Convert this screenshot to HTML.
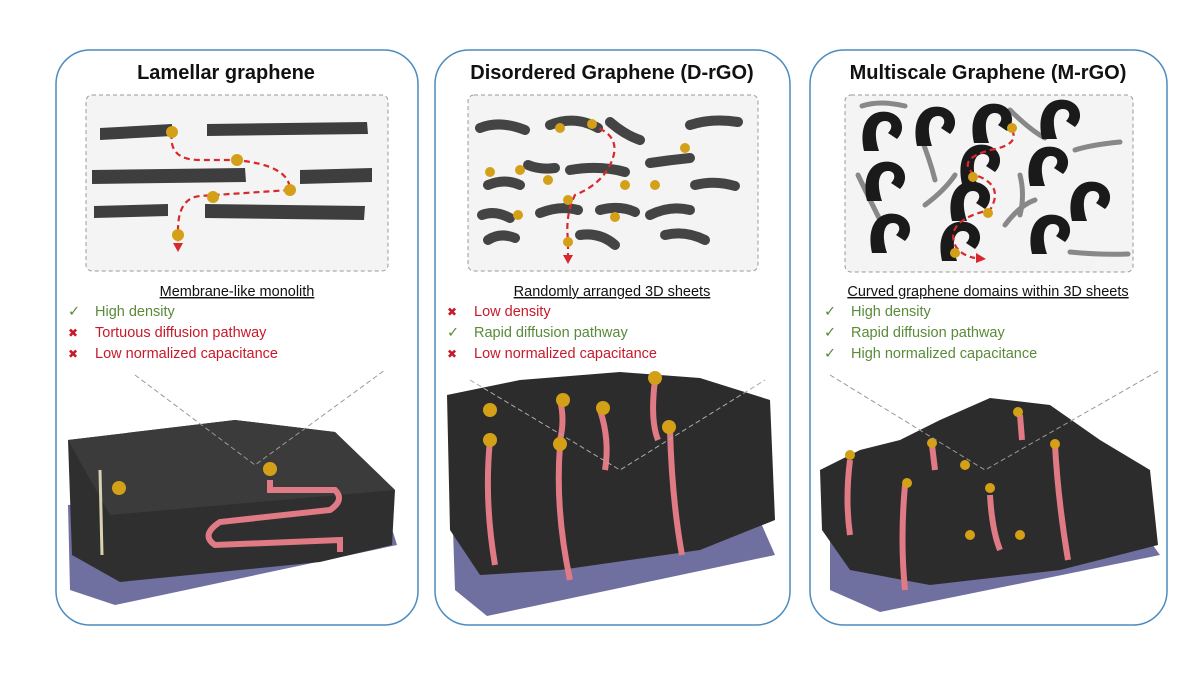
<!DOCTYPE html>
<html><head><meta charset="utf-8"><style>
body{margin:0;background:#fff;width:1200px;height:675px;overflow:hidden;font-family:"Liberation Sans",sans-serif}
</style></head><body>
<svg width="1200" height="675" viewBox="0 0 1200 675" xmlns="http://www.w3.org/2000/svg" font-family="Liberation Sans, sans-serif">
<defs>
<g id="hook"><path d="M-12,14 C-16,-4 -8,-14 4,-12 C14,-10 16,0 10,6 L4,2 C8,-2 6,-6 2,-6 C-4,-6 -6,2 -2,14 Z" fill="#1a1a1a"/></g>
</defs>
<rect x="56" y="50" width="362" height="575" rx="34" fill="#fff" stroke="#4d8cbf" stroke-width="1.5"/>
<rect x="435" y="50" width="355" height="575" rx="34" fill="#fff" stroke="#4d8cbf" stroke-width="1.5"/>
<rect x="810" y="50" width="357" height="575" rx="34" fill="#fff" stroke="#4d8cbf" stroke-width="1.5"/>
<g font-weight="bold" font-size="20" text-anchor="middle" fill="#111">
<text x="226" y="79">Lamellar graphene</text>
<text x="612" y="79">Disordered Graphene (D-rGO)</text>
<text x="988" y="79">Multiscale Graphene (M-rGO)</text>
</g>
<rect x="86" y="95" width="302" height="176" rx="6" fill="#f4f4f4" stroke="#999" stroke-dasharray="4,3"/>
<rect x="468" y="95" width="290" height="176" rx="6" fill="#f4f4f4" stroke="#999" stroke-dasharray="4,3"/>
<rect x="845" y="95" width="288" height="177" rx="6" fill="#f4f4f4" stroke="#999" stroke-dasharray="4,3"/>
<g fill="#3e3e3e">
<path d="M100,128 L172,124 L172,136 L100,140Z"/><path d="M207,124 L367,122 L368,134 L207,136Z"/>
<path d="M92,170 L245,168 L246,182 L92,184Z"/><path d="M300,170 L372,168 L372,182 L300,184Z"/>
<path d="M94,206 L168,204 L168,216 L94,218Z"/><path d="M205,204 L365,206 L364,220 L205,218Z"/>
</g>
<path d="M172,133 Q168,160 200,160 L235,160 Q290,165 290,190 L200,196 Q178,198 178,230 L178,245" fill="none" stroke="#d9282d" stroke-width="2.2" stroke-dasharray="6,4"/>
<path d="M173,243 L183,243 L178,252Z" fill="#d9282d"/>
<g fill="#d4a017"><circle cx="172" cy="132" r="6"/><circle cx="237" cy="160" r="6"/><circle cx="290" cy="190" r="6"/><circle cx="213" cy="197" r="6"/><circle cx="178" cy="235" r="6"/></g>
<g fill="none" stroke="#444" stroke-width="10" stroke-linecap="round">
<path d="M480,128 Q500,120 525,130"/><path d="M550,125 Q575,115 598,128"/><path d="M610,122 Q625,135 640,140"/><path d="M690,125 Q712,118 738,122"/>
<path d="M488,185 Q505,178 520,185"/><path d="M528,165 Q540,170 555,168"/><path d="M570,170 Q600,165 625,172"/><path d="M650,163 Q670,160 690,158"/><path d="M695,185 Q715,180 735,186"/>
<path d="M482,215 Q495,210 510,218"/><path d="M540,213 Q560,205 578,210"/><path d="M600,210 Q620,205 635,212"/><path d="M650,215 Q670,205 690,210"/>
<path d="M488,240 Q500,232 515,238"/><path d="M580,235 Q600,232 615,245"/><path d="M665,235 Q685,230 705,240"/>
</g>
<path d="M590,125 Q625,135 610,165 Q600,185 575,195 Q565,215 568,240 L568,255" fill="none" stroke="#d9282d" stroke-width="2.2" stroke-dasharray="6,4"/>
<path d="M563,255 L573,255 L568,264Z" fill="#d9282d"/>
<g fill="#d4a017"><circle cx="592" cy="124" r="5"/><circle cx="560" cy="128" r="5"/><circle cx="685" cy="148" r="5"/><circle cx="490" cy="172" r="5"/><circle cx="548" cy="180" r="5"/><circle cx="625" cy="185" r="5"/><circle cx="655" cy="185" r="5"/><circle cx="568" cy="200" r="5"/><circle cx="518" cy="215" r="5"/><circle cx="615" cy="217" r="5"/><circle cx="568" cy="242" r="5"/><circle cx="520" cy="170" r="5"/></g>
<g fill="none" stroke="#888" stroke-width="5" stroke-linecap="round">
<path d="M862,106 Q880,100 905,106"/><path d="M1010,110 Q1030,130 1045,138"/><path d="M920,135 Q930,160 935,180"/><path d="M1075,150 Q1090,145 1120,142"/>
<path d="M858,175 Q870,200 880,220"/><path d="M1020,175 Q1025,195 1020,215"/><path d="M925,205 Q945,190 955,175"/><path d="M1005,225 Q1020,205 1035,200"/><path d="M1070,252 Q1100,255 1128,254"/>
</g>
<g>
<use href="#hook" transform="translate(882,130) scale(1.5)"/><use href="#hook" transform="translate(935,125) scale(1.5)"/><use href="#hook" transform="translate(992,122) scale(1.5)"/><use href="#hook" transform="translate(1060,118) scale(1.5)"/>
<use href="#hook" transform="translate(885,180) scale(1.5)"/><use href="#hook" transform="translate(980,163) scale(1.5)"/><use href="#hook" transform="translate(1048,165) scale(1.5)"/>
<use href="#hook" transform="translate(970,200) scale(1.5)"/><use href="#hook" transform="translate(1090,200) scale(1.5)"/>
<use href="#hook" transform="translate(890,232) scale(1.5)"/><use href="#hook" transform="translate(960,240) scale(1.5)"/><use href="#hook" transform="translate(1050,233) scale(1.5)"/>
</g>
<path d="M1012,130 Q1020,145 990,150 Q955,160 975,175 Q1005,185 990,210 Q945,220 955,245 Q960,255 975,258" fill="none" stroke="#d9282d" stroke-width="2.2" stroke-dasharray="6,4"/>
<path d="M976,253 L986,259 L976,263Z" fill="#d9282d"/>
<g fill="#d4a017"><circle cx="1012" cy="128" r="5"/><circle cx="973" cy="177" r="5"/><circle cx="988" cy="213" r="5"/><circle cx="955" cy="253" r="5"/></g>
<g font-size="14.5" text-anchor="middle" fill="#111" text-decoration="underline">
<text x="237" y="296">Membrane-like monolith</text>
<text x="612" y="296">Randomly arranged 3D sheets</text>
<text x="988" y="296">Curved graphene domains within 3D sheets</text>
</g>
<g font-size="14.5">
<text x="68" y="316" fill="#5a8a3a">✓</text><text x="95" y="316" fill="#5a8a3a">High density</text>
<text x="68" y="337" fill="#c8192a" font-size="12">✖</text><text x="95" y="337" fill="#c8192a">Tortuous diffusion pathway</text>
<text x="68" y="358" fill="#c8192a" font-size="12">✖</text><text x="95" y="358" fill="#c8192a">Low normalized capacitance</text>
<text x="447" y="316" fill="#c8192a" font-size="12">✖</text><text x="474" y="316" fill="#c8192a">Low density</text>
<text x="447" y="337" fill="#5a8a3a">✓</text><text x="474" y="337" fill="#5a8a3a">Rapid diffusion pathway</text>
<text x="447" y="358" fill="#c8192a" font-size="12">✖</text><text x="474" y="358" fill="#c8192a">Low normalized capacitance</text>
<text x="824" y="316" fill="#5a8a3a">✓</text><text x="851" y="316" fill="#5a8a3a">High density</text>
<text x="824" y="337" fill="#5a8a3a">✓</text><text x="851" y="337" fill="#5a8a3a">Rapid diffusion pathway</text>
<text x="824" y="358" fill="#5a8a3a">✓</text><text x="851" y="358" fill="#5a8a3a">High normalized capacitance</text>
</g>
<path d="M68,505 L380,490 L397,545 L115,605 L70,590Z" fill="#6f6fa0"/>
<path d="M68,440 L235,420 L335,432 L395,490 L392,545 L320,562 L120,582 L72,555Z" fill="#2f2f2f"/>
<path d="M68,440 L235,420 L335,432 L395,490 L110,515 Z" fill="#3b3b3b"/>
<path d="M270,480 L270,490 L335,490 Q345,500 330,510 L220,522 Q200,535 215,545 L340,540 L340,552" fill="none" stroke="#e07a84" stroke-width="6"/>
<path d="M100,470 L102,555" stroke="#d9d2b0" stroke-width="3"/>
<g fill="#d4a017"><circle cx="119" cy="488" r="7"/><circle cx="270" cy="469" r="7"/></g>
<path d="M135,375 L255,465 L385,370" fill="none" stroke="#999" stroke-dasharray="5,3"/>
<path d="M452,500 L740,475 L775,555 L487,616 L455,590Z" fill="#6f6fa0"/>
<path d="M447,395 L520,380 L620,372 L700,378 L770,400 L775,520 L700,550 L560,570 L480,575 L450,530Z" fill="#2c2c2c"/>
<g stroke="#e07a84" stroke-width="6" fill="none">
<path d="M490,440 Q484,500 495,565"/><path d="M560,445 Q555,510 570,580"/><path d="M600,410 Q610,440 605,470"/><path d="M655,380 Q650,420 658,440"/><path d="M670,430 Q672,500 682,555"/><path d="M560,400 Q565,420 560,440"/>
</g>
<g fill="#d4a017"><circle cx="490" cy="410" r="7"/><circle cx="490" cy="440" r="7"/><circle cx="560" cy="444" r="7"/><circle cx="563" cy="400" r="7"/><circle cx="603" cy="408" r="7"/><circle cx="655" cy="378" r="7"/><circle cx="669" cy="427" r="7"/></g>
<path d="M470,380 L620,470 L765,380" fill="none" stroke="#aaa" stroke-dasharray="5,3"/>
<path d="M830,515 L1120,500 L1160,555 L880,612 L830,590Z" fill="#6f6fa0"/>
<path d="M820,470 L860,450 L900,440 L940,420 L990,398 L1050,405 L1100,440 L1150,470 L1158,545 L1060,570 L930,585 L850,570 L822,530Z" fill="#2c2c2c"/>
<g stroke="#e07a84" stroke-width="6" fill="none">
<path d="M850,460 Q845,500 850,535"/><path d="M905,485 Q900,540 905,590"/><path d="M1055,445 Q1058,500 1068,560"/><path d="M990,495 Q992,530 1000,550"/><path d="M932,445 L935,470"/><path d="M1020,415 L1022,440"/>
</g>
<g fill="#d4a017"><circle cx="850" cy="455" r="5"/><circle cx="907" cy="483" r="5"/><circle cx="932" cy="443" r="5"/><circle cx="965" cy="465" r="5"/><circle cx="990" cy="488" r="5"/><circle cx="1018" cy="412" r="5"/><circle cx="1055" cy="444" r="5"/><circle cx="970" cy="535" r="5"/><circle cx="1020" cy="535" r="5"/></g>
<path d="M830,375 L985,470 L1160,370" fill="none" stroke="#999" stroke-dasharray="5,3"/>
</svg>
</body></html>
